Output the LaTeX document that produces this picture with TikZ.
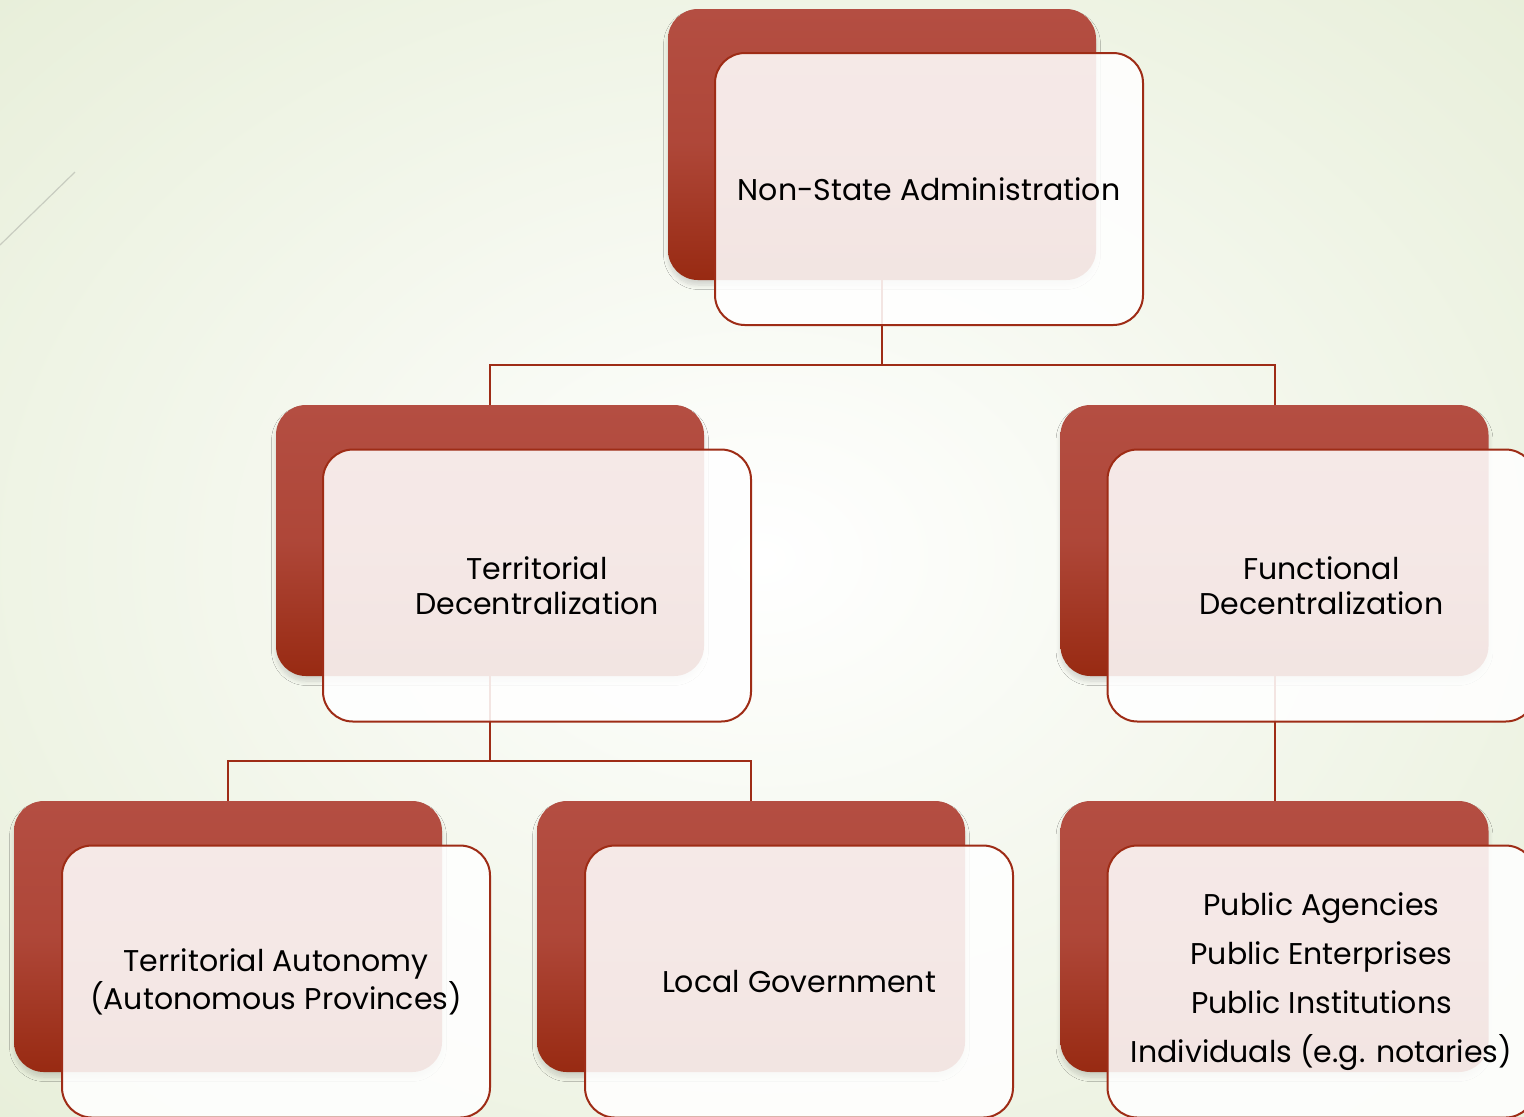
\documentclass[tikz,border=0pt]{standalone}
\usepackage{fontspec}
\setmainfont{Poppins}
\usetikzlibrary{calc}
\usetikzlibrary{positioning}
\usetikzlibrary{shadows.blur}
\definecolor{custom-red}{RGB}{180, 78, 66}
\definecolor{custom-darkred}{RGB}{152, 42, 18}
\definecolor{custom-line}{RGB}{158, 44, 22}
\definecolor{custom-green}{RGB}{232, 239, 218}
\definecolor{custom-grey}{RGB}{200, 204, 192}
\tikzset{
  backbox/.style={minimum width=214pt, minimum height=135.5pt, rounded corners=15pt,
    top color=custom-red, bottom color=custom-darkred, middle color=custom-red!80!custom-darkred,
    blur shadow={shadow xshift=0pt, shadow yshift=-2.5pt, shadow opacity=15, shadow blur steps=8}},
  frontbox/.style={minimum width=214pt, minimum height=136pt, rounded corners=15pt,
    draw=custom-line, line width=1pt, fill=white, fill opacity=0.88, text opacity=1,
    align=center, font=\fontsize{15}{17.5}\selectfont},
  link/.style={draw=custom-line, line width=1pt}
}
\begin{document}
\begin{tikzpicture}[x=0.5pt, y=-0.5pt]
\useasboundingbox (0,0) rectangle (1524,1116);
\clip (0,0) rectangle (1524,1116);
\shade[inner color=white, outer color=custom-green] (-300,-250) rectangle (1824,1366);
\draw[custom-grey, line width=0.6pt] (0,245) -- (75,172);
% back boxes
\node[backbox] (nsa-b) at (882,144.5) {};
\node[backbox] (terr-b) at (490,540.5) {};
\node[backbox] (func-b) at (1274.5,540.5) {};
\node[backbox] (auto-b) at (228,936.5) {};
\node[backbox] (local-b) at (751,936.5) {};
\node[backbox] (pub-b) at (1274.5,936.5) {};
% connectors
\draw[link] (nsa-b.south) -- ++(0,85) -| (terr-b.north);
\draw[link] (nsa-b.south) -- ++(0,85) -| (func-b.north);
\draw[link] (terr-b.south) -- ++(0,85) -| (auto-b.north);
\draw[link] (terr-b.south) -- ++(0,85) -| (local-b.north);
\draw[link] (func-b.south) -- (pub-b.north);
% front boxes
\node[frontbox] (nsa) at (929,189) {Non-State Administration};
\node[frontbox] (terr) at (537,585.5) {Territorial\\Decentralization};
\node[frontbox] (func) at (1321.5,585.5) {Functional\\Decentralization};
\node[frontbox] (auto) at (276,981.5) {Territorial Autonomy\\(Autonomous Provinces)};
\node[frontbox] (local) at (799,981.5) {Local Government};
\node[frontbox] (pub) at (1321.5,981.5) {Public Agencies\\[7pt]Public Enterprises\\[7pt]Public Institutions\\[7pt]Individuals (e.g. notaries)};
\end{tikzpicture}
\end{document}
